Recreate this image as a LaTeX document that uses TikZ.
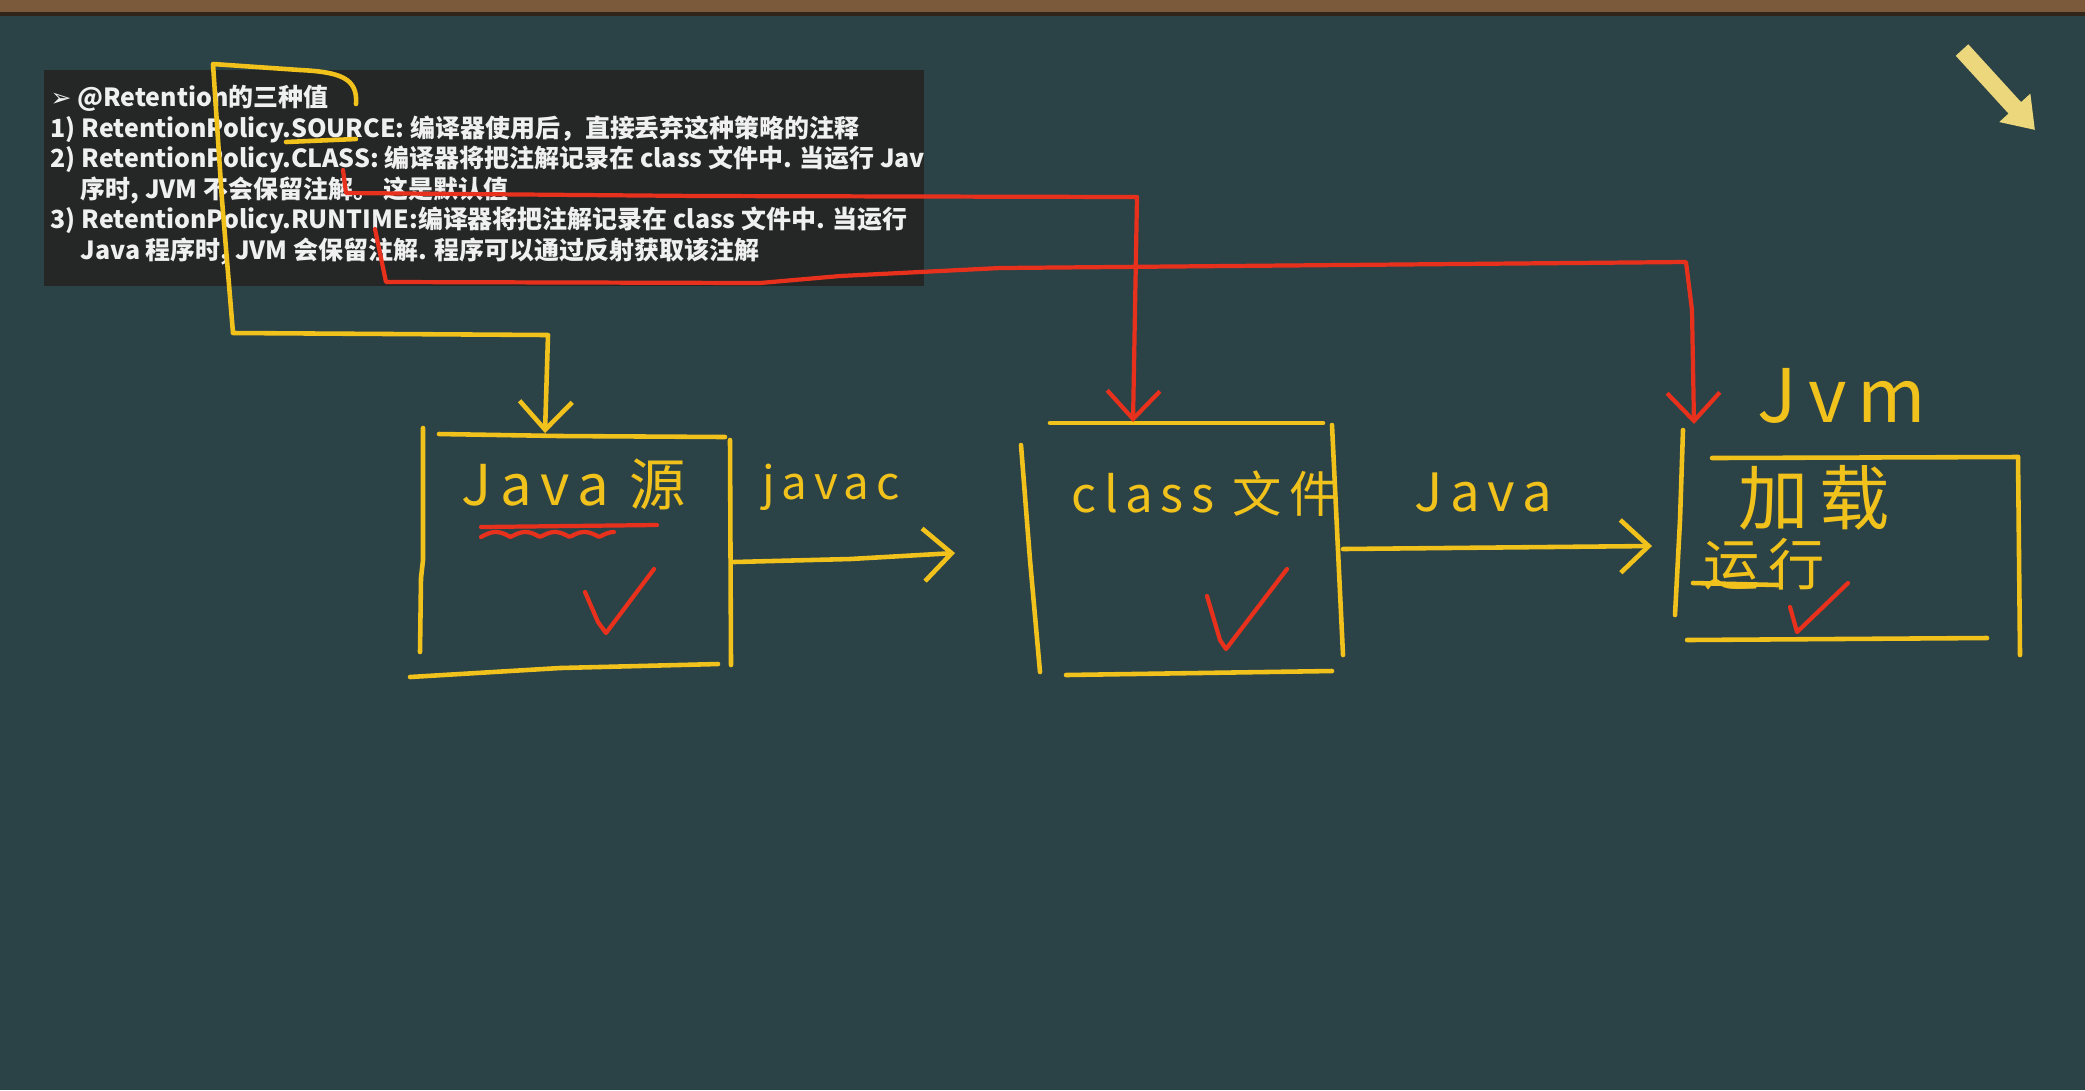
\documentclass[tikz,border=0pt]{standalone}
\usepackage{fontspec}
\usepackage{tikz}
\usetikzlibrary{arrows.meta}
\setmainfont{Noto Sans CJK SC}
\newfontfamily\symfont{DejaVu Sans}
\newfontfamily\hand[LetterSpace=15]{Noto Sans CJK SC}
\definecolor{cboard}{HTML}{2B4346}
\definecolor{cwood}{HTML}{7B5A3B}
\definecolor{cpanel}{HTML}{252727}
\definecolor{cchalk}{HTML}{F2C21C}
\definecolor{cred}{HTML}{E8311C}
\definecolor{cpale}{HTML}{EDD77C}
\definecolor{ctext}{HTML}{F0F0F0}
\def\fs{\fontsize{7.1}{8.7}\selectfont\bfseries}
\def\hs#1{\hand\fontsize{#1}{#1}\selectfont}

\begin{document}
\begin{tikzpicture}[x=0.01cm, y=-0.01cm, line cap=round, line join=round,
                    chalk/.style={cchalk, line width=1.3pt},
                    redchalk/.style={cred, line width=1.2pt},
                    barb/.style={-{Straight Barb[length=8pt,width=15pt]}},
                    panel/.style={anchor=base west, inner sep=0pt, text=ctext, font=\fs},
                    hand/.style={cchalk, inner sep=0pt}]
\useasboundingbox (0,0) rectangle (2085,1090);

% =================== board ===================
\fill[cboard] (0,0) rectangle (2085,1090);
\fill[cwood] (0,0) rectangle (2085,12);
\fill[cwood!40!black] (0,12) rectangle (2085,16);

% corner pointer
\draw[cpale, line width=0.17cm, line cap=butt, -{Triangle[length=0.3cm,width=0.4cm]}]
  (1962,50) -- (2035,130);

% =================== slide panel ===================
\fill[cpanel] (44,70) rectangle (924,286);
\begin{scope}
\clip (44,70) rectangle (924,286);
\node[panel] (l1) at (50,106) {{\symfont ➢} @Retention的三种值};
\node[panel] (l2) at (50,137) {1) RetentionPolicy.SOURCE: 编译器使用后，直接丢弃这种策略的注释};
\node[panel] (l3) at (50,167) {2) RetentionPolicy.CLASS: 编译器将把注解记录在 class 文件中. 当运行 Jav};
\node[panel] (l4) at (80,198) {序时, JVM 不会保留注解。 这是默认值};
\node[panel] (l5) at (50,228) {3) RetentionPolicy.RUNTIME:编译器将把注解记录在 class 文件中. 当运行};
\node[panel] (l6) at (80,259) {Java 程序时, JVM 会保留注解. 程序可以通过反射获取该注解};
\end{scope}

% =================== three stages ===================
% source box
\draw[chalk] (423,428) -- (423,560) -- (421,578) -- (420,652);
\draw[chalk] (439,434) -- (560,436) -- (725,437);
\draw[chalk] (730,440) -- (731,665);
\draw[chalk] (410,677) -- (560,668) -- (718,664);
\node[hand, font=\hs{16}] (srcLbl) at (574,484) {Java 源};
\draw[redchalk] (481,527) -- (657,525);
\draw[redchalk] plot[domain=0:1, samples=60]
  ({481+133*\x}, {537-5*abs(sin(\x*4.5*180))});
\draw[redchalk] (585,592) -- (598,622) -- (606,633) -- (654,569);

% class box
\draw[chalk] (1050,423) -- (1323,423);
\draw[chalk] (1021,445) -- (1030,560) -- (1040,672);
\draw[chalk] (1332,425) -- (1343,655);
\draw[chalk] (1066,675) -- (1332,671);
\node[hand, font=\hs{14}] (clsLbl) at (1205,494) {class 文件};
\draw[redchalk] (1207,596) -- (1220,640) -- (1226,649) -- (1287,569);

% jvm box
\node[hand, font=\hs{21}] (jvmLbl) at (1842,396) {Jvm};
\draw[chalk] (1683,430) -- (1680,520) -- (1675,615);
\draw[chalk] (1712,458) -- (2018,457);
\draw[chalk] (2018,457) -- (2020,655);
\draw[chalk] (1687,640) -- (1987,638);
\node[hand, font=\hs{20}] (loadLbl) at (1814,498) {加载};
\node[hand, font=\hs{16}] (runLbl) at (1764,564) {运行};
\draw[chalk] (1693,583) -- (1778,585);
\draw[redchalk] (1790,607) -- (1797,632) -- (1848,583);

% =================== flow between stages ===================
\coordinate (srcOut) at (734,562);
\coordinate (javacTip) at (955,553);
\draw[chalk, barb] (srcOut) -- (850,559) -- (javacTip);
\node[hand, font=\hs{13}] (javacLbl) at (831,487) {javac};

\coordinate (clsOut) at (1343,549);
\coordinate (javaTip) at (1652,546);
\draw[chalk, barb] (clsOut) -- (javaTip);
\node[hand, font=\hs{15}] (javaLbl) at (1483,492) {Java};

% =================== retention links ===================
\coordinate (srcIn) at (545,433);
\coordinate (clsIn) at (1133,422);
\coordinate (jvmIn) at (1694,424);
% SOURCE
\draw[chalk] (286,142) -- (356,139);
\draw[chalk, barb] (356,104) .. controls (358,78) and (340,72) .. (300,70)
  -- (213,64) -- (222,200) -- (233,333) -- (548,335) -- (srcIn);
% CLASS
\draw[redchalk, barb] (343,170) -- (346,193) -- (700,196) -- (1137,197) -- (clsIn);
% RUNTIME
\draw[redchalk, barb] (375,229) -- (386,282) -- (760,283) -- (840,276) -- (1000,268)
  -- (1686,262) -- (1692,310) -- (jvmIn);

\end{tikzpicture}
\end{document}
